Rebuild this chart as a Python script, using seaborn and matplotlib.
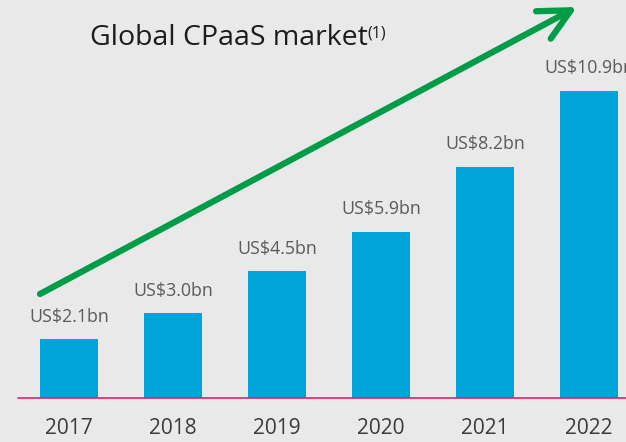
import matplotlib
matplotlib.use("Agg")
import matplotlib.pyplot as plt
import seaborn as sns
import pandas as pd

# ---------------------------------- DATA ----------------------------------
years = ["2017", "2018", "2019", "2020", "2021", "2022"]
market_bn = [2.1, 3.0, 4.5, 5.9, 8.2, 10.9]
value_labels = ["US$2.1bn", "US$3.0bn", "US$4.5bn", "US$5.9bn", "US$8.2bn", "US$10.9bn"]
title = "Global CPaaS market"
title_note = "(1)"

BG = "#e9e9e9"
BLUE = "#00a3da"
GREEN = "#009c48"
PINK = "#e8206f"


def main():
    sns.set_style("white", {"axes.facecolor": BG, "figure.facecolor": BG})
    plt.rcParams["font.family"] = ["Open Sans", "DejaVu Sans"]

    df = pd.DataFrame({"year": years, "value": market_bn})

    fig = plt.figure(figsize=(6.26, 4.42), dpi=100)
    ax = fig.add_axes([0, 0, 1, 1])
    sns.barplot(data=df, x="year", y="value", color=BLUE, saturation=1,
                width=0.56, linewidth=0, edgecolor=BLUE, ax=ax)

    ax.set_xlim(-0.663, 5.356)
    ax.set_ylim(-1.56, 14.11)
    ax.axis("off")
    ax.axhline(0, xmin=18 / 626, xmax=1, color=PINK, lw=1.2, zorder=3)

    # value labels above bars, year labels below baseline
    for i, (v, lab) in enumerate(zip(market_bn, value_labels)):
        ax.text(i, v + 0.61, lab, ha="center", va="baseline",
                fontsize=12.8, color="#5a5a5a")
        ax.text(i, -1.07, years[i], ha="center", va="center",
                fontsize=15, color="#3a3a3a")

    # title with superscript note
    fig.text(90 / 626, 1 - 45 / 442, title, ha="left", va="baseline",
             fontsize=20.5, color="#1c1c1c")
    fig.text(367 / 626, 1 - 37 / 442, title_note, ha="left", va="baseline",
             fontsize=11.5, color="#1c1c1c")

    # growth arrow
    ax.annotate("", xy=(577, 442 - 7), xycoords="figure pixels",
                xytext=(40, 442 - 294), textcoords="figure pixels",
                arrowprops=dict(arrowstyle="->,head_length=0.56,head_width=0.28",
                                mutation_scale=40, color=GREEN, lw=4.5,
                                shrinkA=0, shrinkB=0, capstyle="round",
                                joinstyle="round"))

    fig.savefig("out.png", dpi=100, facecolor=BG)


if __name__ == "__main__":
    main()
